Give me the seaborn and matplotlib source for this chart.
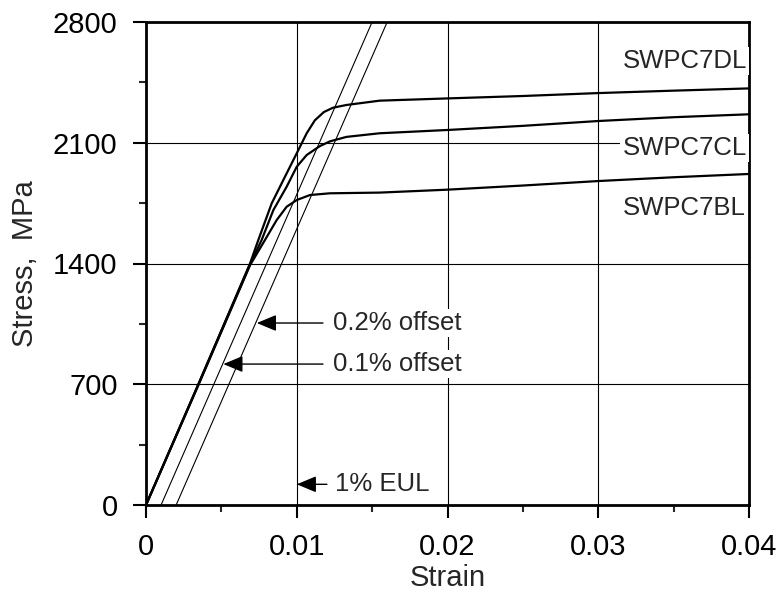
import matplotlib
matplotlib.use("Agg")
import matplotlib.pyplot as plt
from matplotlib.ticker import MultipleLocator
import seaborn as sns
import pandas as pd

# ---- data ----
dl_strain = [0, 0.0035, 0.0069, 0.00745, 0.00834, 0.00911, 0.0100, 0.01066, 0.01120,
             0.0118, 0.0124, 0.0133, 0.0155, 0.0200, 0.0250, 0.0300, 0.0350, 0.0400]
dl_stress = [0, 705, 1400, 1536, 1749, 1884, 2039, 2155, 2230,
             2278, 2303, 2319, 2344, 2357, 2371, 2388, 2402, 2415]

cl_strain = [0, 0.0035, 0.0069, 0.00767, 0.00845, 0.00933, 0.0100, 0.01066, 0.01154,
             0.0122, 0.0133, 0.0155, 0.0200, 0.0250, 0.0300, 0.0350, 0.0400]
cl_stress = [0, 705, 1395, 1536, 1710, 1845, 1961, 2029, 2081,
             2108, 2134, 2155, 2174, 2198, 2226, 2248, 2265]

bl_strain = [0, 0.0035, 0.0069, 0.00789, 0.00867, 0.00933, 0.0100, 0.01088, 0.0122,
             0.0155, 0.0200, 0.0250, 0.0300, 0.0350, 0.0400]
bl_stress = [0, 700, 1390, 1536, 1652, 1729, 1768, 1797, 1807,
             1811, 1828, 1852, 1878, 1900, 1919]

offset01_strain = [0.001, 0.015]
offset02_strain = [0.002, 0.016]
offset_stress = [0, 2800]

curve_names = ["SWPC7DL", "SWPC7CL", "SWPC7BL"]
x_ticks = [0, 0.01, 0.02, 0.03, 0.04]
x_tick_labels = ["0", "0.01", "0.02", "0.03", "0.04"]
y_ticks = [0, 700, 1400, 2100, 2800]

# ---- build frames ----
df = pd.concat([
    pd.DataFrame({"strain": dl_strain, "stress": dl_stress, "grade": curve_names[0]}),
    pd.DataFrame({"strain": cl_strain, "stress": cl_stress, "grade": curve_names[1]}),
    pd.DataFrame({"strain": bl_strain, "stress": bl_stress, "grade": curve_names[2]}),
], ignore_index=True)
off = pd.concat([
    pd.DataFrame({"strain": offset01_strain, "stress": offset_stress, "line": "0.1%"}),
    pd.DataFrame({"strain": offset02_strain, "stress": offset_stress, "line": "0.2%"}),
], ignore_index=True)

sns.set_style("ticks")
plt.rcParams["font.family"] = ["Liberation Sans", "DejaVu Sans"]

fig = plt.figure(figsize=(7.84, 6), dpi=100)
ax = fig.add_axes([146 / 784, 1 - 505 / 600, (749 - 146) / 784, (505 - 22) / 600])

ax.grid(True, which="major", color="black", lw=0.8, zorder=0)
ax.set_axisbelow(True)

sns.lineplot(data=off, x="strain", y="stress", units="line", estimator=None,
             sort=False, color="black", lw=0.8, ax=ax, zorder=3)
sns.lineplot(data=df, x="strain", y="stress", units="grade", estimator=None,
             sort=False, color="black", lw=1.6, ax=ax, zorder=4)

ax.set_xlim(0, 0.04)
ax.set_ylim(0, 2800)
ax.set_xticks(x_ticks)
ax.set_xticklabels(x_tick_labels)
ax.set_yticks(y_ticks)
ax.xaxis.set_minor_locator(MultipleLocator(0.005))
ax.yaxis.set_minor_locator(MultipleLocator(350))
ax.tick_params(which="major", direction="out", length=9.5, width=1.5,
               labelsize=21, pad=11, colors="black")
ax.tick_params(which="minor", direction="out", length=5, width=1.5)
for s in ax.spines.values():
    s.set_visible(True)
    s.set_linewidth(2)
    s.set_color("black")

ax.set_xlabel("Strain", fontsize=21, labelpad=2)
ax.set_ylabel("Stress,  MPa", fontsize=21, labelpad=10)

box = dict(facecolor="white", edgecolor="none", pad=1.5)
label_pos = {"SWPC7DL": 2574, "SWPC7CL": 2070, "SWPC7BL": 1722}
for name in curve_names:
    ax.text(0.0316, label_pos[name], name, fontsize=18.5, ha="left", va="center",
            bbox=box, zorder=5)

arrow = dict(arrowstyle="-|>,head_length=0.6,head_width=0.25", color="black",
             lw=1.0, shrinkA=0, shrinkB=0, mutation_scale=20)
ax.annotate("", xy=(0.00735, 1055), xytext=(0.01174, 1055), arrowprops=arrow, zorder=5)
ax.annotate("", xy=(0.00513, 817), xytext=(0.01174, 817), arrowprops=arrow, zorder=5)
ax.annotate("", xy=(0.0100, 120), xytext=(0.0120, 120), arrowprops=arrow, zorder=5)
ax.text(0.0124, 1055, "0.2% offset", fontsize=18.5, ha="left", va="center", bbox=box, zorder=5)
ax.text(0.0124, 817, "0.1% offset", fontsize=18.5, ha="left", va="center", bbox=box, zorder=5)
ax.text(0.01254, 120, "1% EUL", fontsize=18.5, ha="left", va="center", bbox=box, zorder=5)

fig.savefig("out.png", dpi=100)
